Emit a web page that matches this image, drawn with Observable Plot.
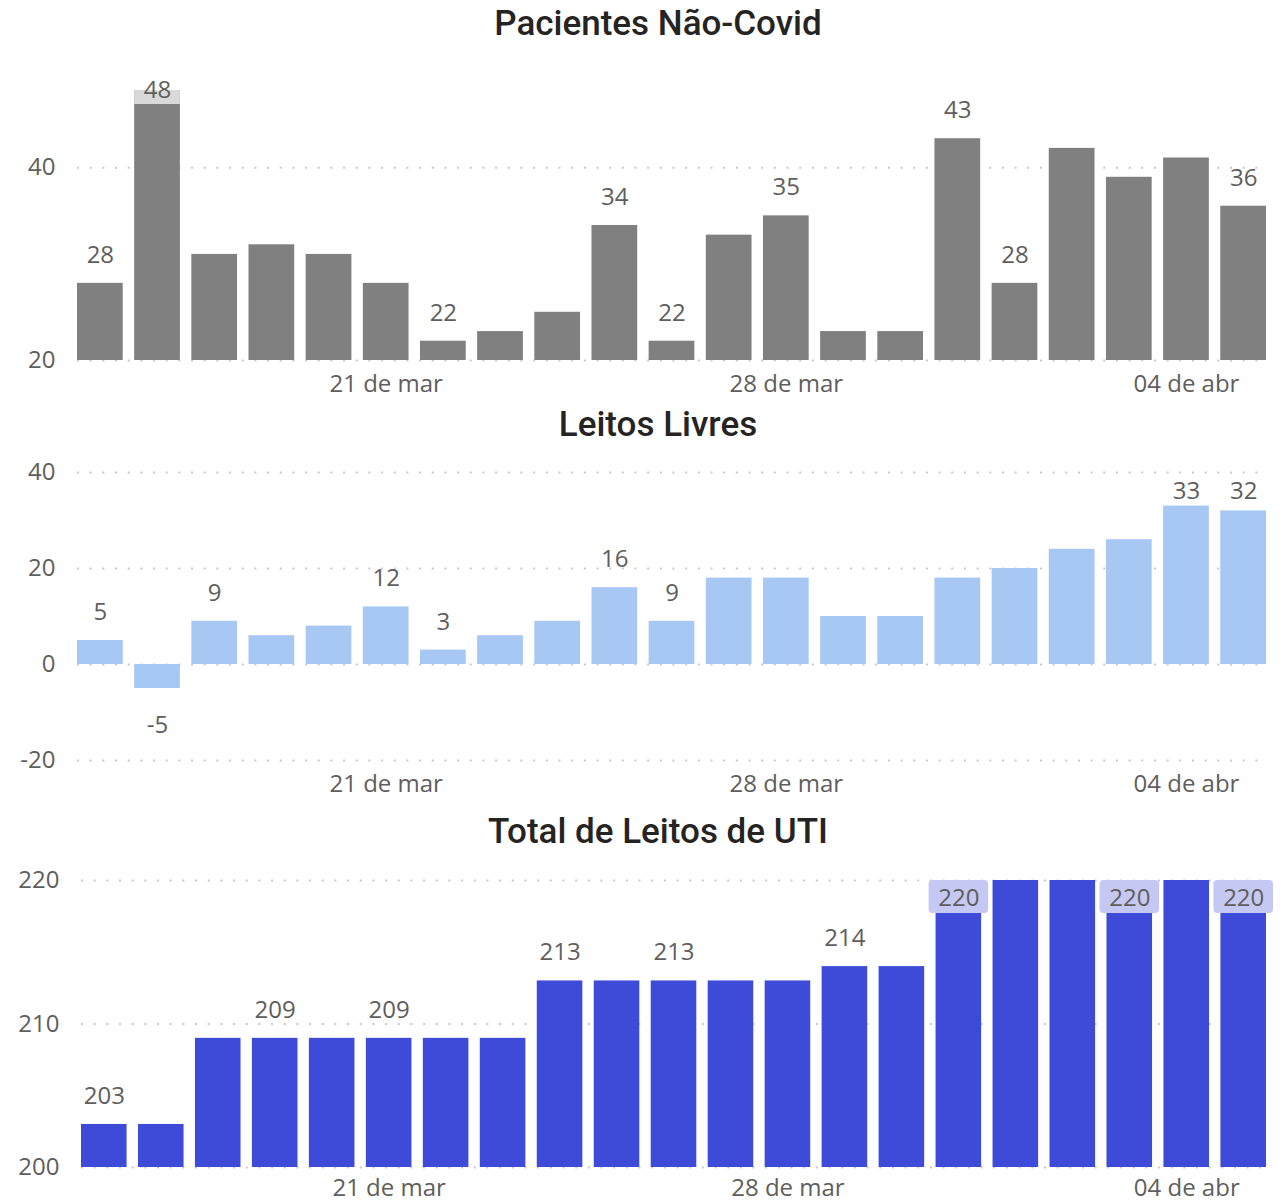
<!DOCTYPE html>
<html>
<head>
<meta charset="utf-8">
<script src="https://cdn.jsdelivr.net/npm/d3@7"></script>
<script src="https://cdn.jsdelivr.net/npm/@observablehq/plot@0.6"></script>
<style>
  body { margin: 0; background: #fff; }
  #wrap { position: relative; width: 1286px; height: 1204px; overflow: hidden; background: #fff; }
  .title { position: absolute; left: 0; width: 1286px; box-sizing: border-box; padding-left: 30px;
           text-align: center; font-family: Roboto, sans-serif; font-weight: 500; font-size: 35px;
           line-height: 35px; color: #252423; z-index: 2; white-space: nowrap; }
  .panel { position: absolute; left: 0; }
</style>
</head>
<body>
<div id="wrap"></div>
<script>
// ---- data ----
const dates = ["2021-03-16","2021-03-17","2021-03-18","2021-03-19","2021-03-20","2021-03-21","2021-03-22",
               "2021-03-23","2021-03-24","2021-03-25","2021-03-26","2021-03-27","2021-03-28","2021-03-29",
               "2021-03-30","2021-03-31","2021-04-01","2021-04-02","2021-04-03","2021-04-04","2021-04-05"];
const tickDates = ["2021-03-21", "2021-03-28", "2021-04-04"];
const tickLabels = ["21 de mar", "28 de mar", "04 de abr"];

const titles = ["Pacientes Não-Covid", "Leitos Livres", "Total de Leitos de UTI"];

const pacientesNaoCovid = [28, 48, 31, 32, 31, 28, 22, 23, 25, 34, 22, 33, 35, 23, 23, 43, 28, 42, 39, 41, 36];
const leitosLivres      = [5, -5, 9, 6, 8, 12, 3, 6, 9, 16, 9, 18, 18, 10, 10, 18, 20, 24, 26, 33, 32];
const totalLeitosUTI    = [203, 203, 209, 209, 209, 209, 209, 209, 213, 213, 213, 213, 213, 214, 214, 220, 220, 220, 220, 220, 220];

// indices of bars that show a data label (as in the reference)
const labeledPacientes = [0, 1, 6, 9, 10, 12, 15, 16, 20];
const labeledLivres    = [0, 1, 2, 5, 6, 9, 10, 19, 20];
const labeledTotal     = [0, 3, 5, 8, 10, 13, 15, 18, 20];
// labels drawn inside the bar top with a background box
const insidePacientes = [1];
const insideLivres    = [];
const insideTotal     = [15, 18, 20];
// labels pushed down to stay inside the plot frame
const pinnedPacientes = [];
const pinnedLivres    = [19, 20];
const pinnedTotal     = [];

const yTicksPacientes = [20, 40];
const yTicksLivres    = [-20, 0, 20, 40];
const yTicksTotal     = [200, 210, 220];

const labelColor = "#605E5C";

function panel(cfg) {
  const rows = dates.map((d, i) => ({
    date: d,
    value: cfg.values[i],
    label: cfg.labeled.includes(i),
    inside: cfg.inside.includes(i),
    pinned: cfg.pinned.includes(i)
  }));
  const base = cfg.base;
  const fmt = d => String(d.value);
  const common = {fontSize: 24, fill: labelColor, lineAnchor: "bottom"};
  return Plot.plot({
    width: 1286,
    height: cfg.height,
    marginTop: cfg.marginTop,
    marginBottom: cfg.marginBottom,
    marginLeft: cfg.marginLeft,
    marginRight: 20,
    style: {fontFamily: "'Open Sans', sans-serif", fontSize: "24px", color: labelColor, background: "transparent", overflow: "visible"},
    x: {type: "band", domain: dates, paddingInner: 0.2, paddingOuter: 0, round: false},
    y: {domain: cfg.domain},
    marks: [
      Plot.ruleY(cfg.ticks, {stroke: "#c8c8c8", strokeWidth: 2, strokeDasharray: "2,10.67"}),
      Plot.barY(rows, {x: "date", y1: base, y2: "value", fill: cfg.color}),
      Plot.barY(rows.filter(d => d.inside), {
        x: "date", y1: "value", y2: "value", fill: cfg.boxColor,
        insetBottom: -cfg.boxDepth, insetLeft: -cfg.boxSpread, insetRight: -cfg.boxSpread, rx: cfg.boxRadius
      }),
      Plot.text(rows.filter(d => d.label && !d.inside && !d.pinned && d.value >= base), {
        x: "date", y: "value", text: fmt, dy: -20.5, ...common
      }),
      Plot.text(rows.filter(d => d.label && !d.inside && !d.pinned && d.value < base), {
        x: "date", y: "value", text: fmt, dy: 44, ...common
      }),
      Plot.text(rows.filter(d => d.label && d.pinned), {
        x: "date", frameAnchor: "top", text: fmt, dy: 26, ...common
      }),
      Plot.text(rows.filter(d => d.inside), {
        x: "date", y: "value", text: fmt, dy: cfg.insideDy, ...common
      }),
      Plot.axisY({ticks: cfg.ticks, tickSize: 0, tickPadding: 22, tickFormat: d => String(d), fontSize: 24, label: null}),
      Plot.axisX({ticks: tickDates, tickSize: 0, tickPadding: cfg.xPad, fontSize: 24, label: null,
                  tickFormat: d => tickLabels[tickDates.indexOf(d)]})
    ]
  });
}

const wrap = document.getElementById("wrap");

const configs = [
  {values: pacientesNaoCovid, labeled: labeledPacientes, inside: insidePacientes, pinned: pinnedPacientes,
   top: 0, height: 400, marginTop: 90, marginBottom: 40, marginLeft: 77, domain: [20, 48], ticks: yTicksPacientes, base: 20,
   color: "#808080", boxColor: "#D9D9D9", boxDepth: 14, boxSpread: 0, boxRadius: 0, insideDy: 7, titleTop: 5.5, xPad: 14},
  {values: leitosLivres, labeled: labeledLivres, inside: insideLivres, pinned: pinnedLivres,
   top: 400, height: 400, marginTop: 72, marginBottom: 40, marginLeft: 77, domain: [-20, 40], ticks: yTicksLivres, base: 0,
   color: "#A8C8F4", boxColor: "#D9D9D9", boxDepth: 14, boxSpread: 0, boxRadius: 0, insideDy: 7, titleTop: 406.5, xPad: 14},
  {values: totalLeitosUTI, labeled: labeledTotal, inside: insideTotal, pinned: pinnedTotal,
   top: 800, height: 404, marginTop: 80, marginBottom: 37, marginLeft: 81, domain: [200, 220], ticks: yTicksTotal, base: 200,
   color: "#3D4BD8", boxColor: "#C5C8F2", boxDepth: 33, boxSpread: 7, boxRadius: 4, insideDy: 25, titleTop: 813.5, xPad: 11}
];

configs.forEach((cfg, k) => {
  const chart = panel(cfg);
  chart.classList.add("panel");
  chart.style.position = "absolute";
  chart.style.top = cfg.top + "px";
  chart.style.left = "0px";
  wrap.appendChild(chart);
  const t = document.createElement("div");
  t.className = "title";
  t.style.top = cfg.titleTop + "px";
  t.textContent = titles[k];
  wrap.appendChild(t);
});
</script>
</body>
</html>
